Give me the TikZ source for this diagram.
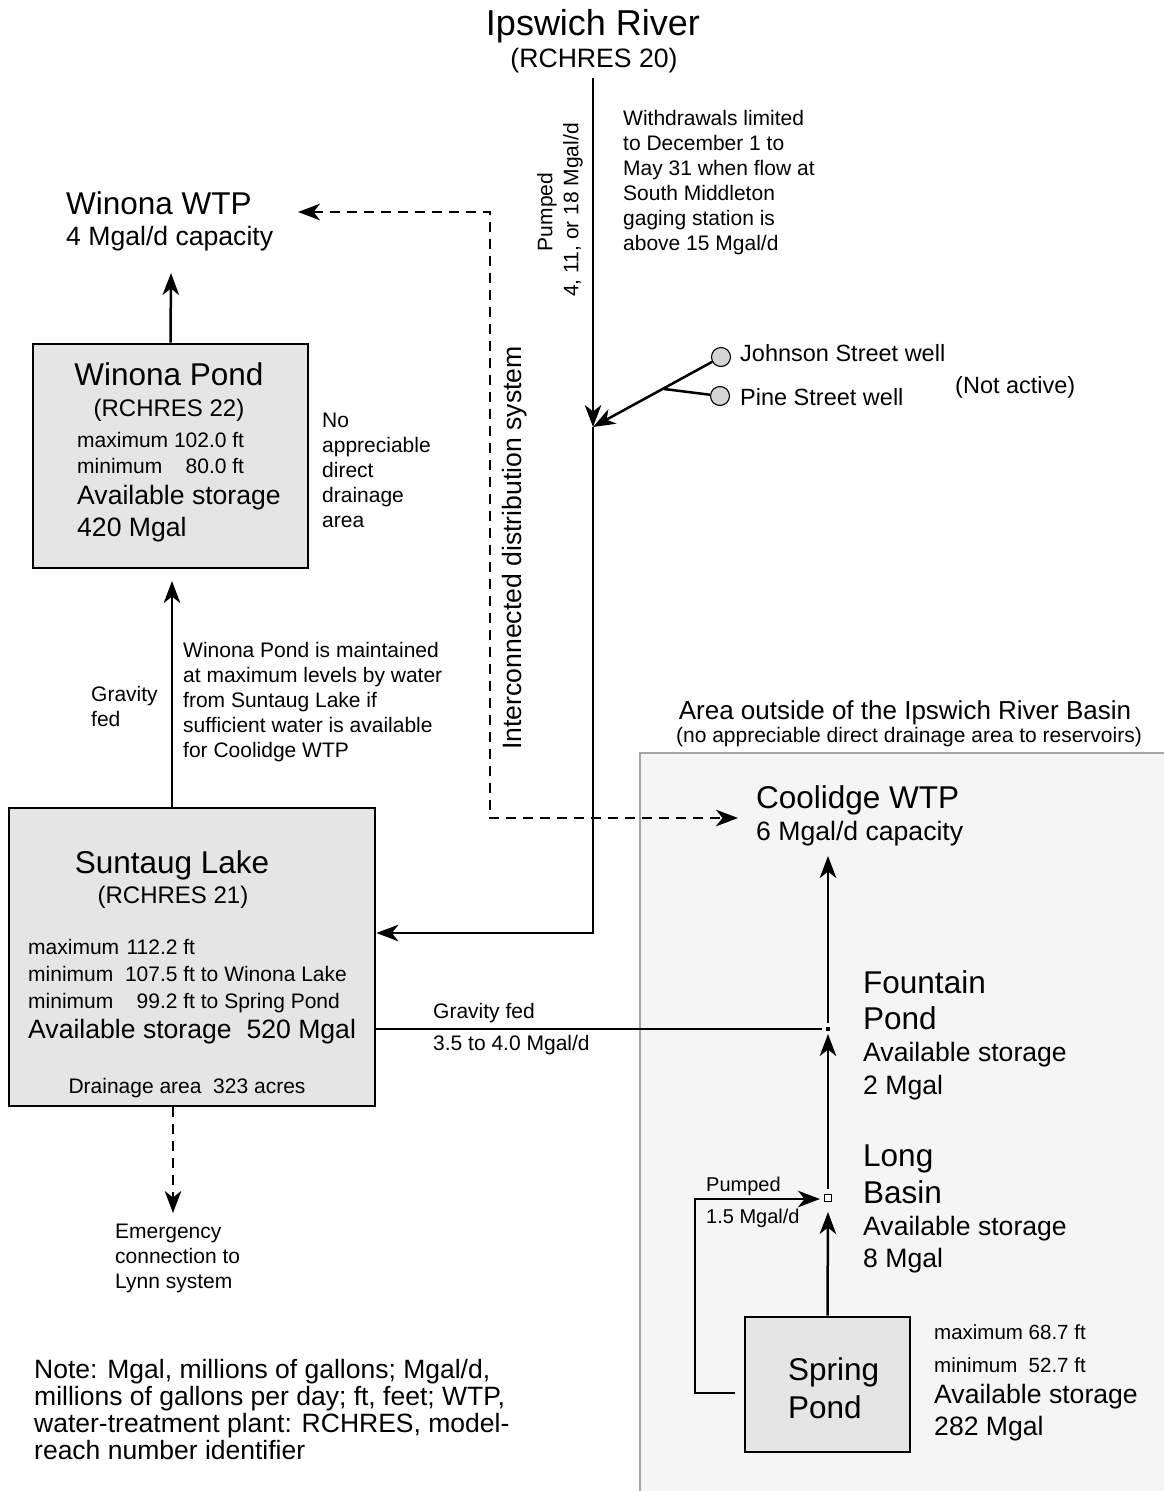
\documentclass[tikz,border=0pt]{standalone}
\usepackage{fontspec}
\setmainfont{Liberation Sans}
\usetikzlibrary{arrows.meta}

% type sizes (1pt = 1 unit of the drawing grid)
\newcommand\fsTitle{\fontsize{36}{42}\selectfont}
\newcommand\fsBig{\fontsize{31.5}{37}\selectfont}
\newcommand\fsMed{\fontsize{26.6}{32}\selectfont}
\newcommand\fsId{\fontsize{24}{28}\selectfont}
\newcommand\fsSmall{\fontsize{21}{25}\selectfont}
\newcommand\fsWell{\fontsize{23.5}{28}\selectfont}

% a left-aligned block whose baseline is that of its first line
\newcommand\linesof[1]{\begin{tabular}[t]{@{}l@{}}#1\end{tabular}}
% level tables: label, right-aligned number, unit
\newcommand\levels[1]{\begin{tabular}[t]{@{}l@{\ }r@{\ }l@{}}#1\end{tabular}}

\tikzset{
  tipA/.tip={Stealth[length=22pt,width=16.5pt,inset=6.5pt]},
  conn/.style={line width=2.5pt},
  flow/.style={conn,-tipA},
  dflow/.style={line width=2.2pt,dash pattern=on 10pt off 7pt},
  pond/.style={draw,line width=2.8pt,fill=black!10,inner sep=0pt},
  txt/.style={inner sep=0pt,anchor=base west},
  ctxt/.style={inner sep=0pt,anchor=base},
  well/.style={circle,draw,line width=1.1pt,fill=black!17,minimum size=19pt,inner sep=0pt},
}

\begin{document}
\begin{tikzpicture}[x=1pt,y=-1pt]
\useasboundingbox (0,0) rectangle (1164,1491);
\fill[white] (0,0) rectangle (1164,1491);

% area outside of the basin
\fill[black!4] (640,753) rectangle (1190,1510);
\draw[black!35,line width=1.3pt] (640,1510) -- (640,753) -- (1190,753);

% ---------- source and plants ----------
\node[ctxt,font=\fsTitle] (ipswich) at (593,35) {Ipswich River};
\node[ctxt,font=\fsMed] (ipswichid) at (594,67) {(RCHRES 20)};

\node[txt,font=\fsSmall] (withdraw) at (623,125)
  {\linesof{Withdrawals limited\\to December 1 to\\May 31 when flow at\\South Middleton\\gaging station is\\above 15 Mgal/d}};

\node[rotate=90,inner sep=0pt,font=\fsSmall] (pumpedA) at (547,212) {Pumped};
\node[rotate=90,inner sep=0pt,font=\fsSmall] (pumpedB) at (573,210) {4, 11, or 18 Mgal/d};

\node[txt,font=\fsBig] (winwtp) at (66,214) {Winona WTP};
\node[txt,font=\fsMed] (winwtpcap) at (66,245) {4 Mgal/d capacity};

\node[rotate=90,inner sep=0pt,font=\fsMed] (interconn) at (515,548) {Interconnected distribution system};

% ---------- wells ----------
\node[well] (johnson) at (721,357) {};
\node[well] (pine) at (720,396) {};
\node[txt,font=\fsWell] (johnsonlbl) at (740,361) {Johnson Street well};
\node[txt,font=\fsWell] (pinelbl) at (740,405) {Pine Street well};
\node[txt,font=\fsWell] (inactive) at (955,393) {(Not active)};

% ---------- Winona Pond ----------
\node[pond,minimum width=275pt,minimum height=224pt] (winpond) at (170.5,456) {};
\node[ctxt,font=\fsBig] (winpondname) at (169,385) {Winona Pond};
\node[ctxt,font=\fsId] (winpondid) at (169,416) {(RCHRES 22)};
\node[txt,font=\fontsize{21}{26}\selectfont] (winpondlev) at (77,447)
  {\levels{maximum & 102.0 & ft\\ minimum & 80.0 & ft}};
\node[txt,font=\fsMed] (winpondstor) at (77,504) {\linesof{Available storage\\420 Mgal}};

\node[txt,font=\fsSmall] (nodrain) at (322,427)
  {\linesof{No\\appreciable\\direct\\drainage\\area}};

\node[txt,font=\fsSmall] (gravA) at (91,701) {\linesof{Gravity\\fed}};
\node[txt,font=\fontsize{21}{25.2}\selectfont] (maintnote) at (183,657)
  {\linesof{Winona Pond is maintained\\at maximum levels by water\\from Suntaug Lake if\\sufficient water is available\\for Coolidge WTP}};

% ---------- Suntaug Lake ----------
\node[pond,minimum width=366pt,minimum height=298pt] (suntaug) at (192,957) {};
\node[ctxt,font=\fsBig] (suntaugname) at (172,873) {Suntaug Lake};
\node[ctxt,font=\fsId] (suntaugid) at (173,903) {(RCHRES 21)};
\node[txt,font=\fontsize{21}{27}\selectfont] (suntauglev) at (28,954)
  {\levels{maximum & 112.2 & ft\\ minimum & 107.5 & ft to Winona Lake\\ minimum & 99.2 & ft to Spring Pond}};
\node[txt,font=\fsMed] (suntaugstor) at (28,1038) {Available storage~~520 Mgal};
\node[ctxt,font=\fsSmall] (suntaugdrain) at (187,1093) {Drainage area~~323 acres};

\node[txt,font=\fsSmall] (lynn) at (115,1238) {\linesof{Emergency\\connection to\\Lynn system}};

\node[txt,font=\fsSmall] (gravB) at (433,1018) {Gravity fed};
\node[txt,font=\fsSmall] (gravBrate) at (433,1050) {3.5 to 4.0 Mgal/d};

% ---------- outside the basin ----------
\node[ctxt,font=\fontsize{26}{30}\selectfont] (outside) at (905,719) {Area outside of the Ipswich River Basin};
\node[ctxt,font=\fsSmall] (outsidenote) at (909,742) {(no appreciable direct drainage area to reservoirs)};

\node[txt,font=\fsBig] (coolidge) at (756,808) {Coolidge WTP};
\node[txt,font=\fsMed] (coolidgecap) at (756,840) {6 Mgal/d capacity};

\node[txt,font=\fontsize{31.5}{36}\selectfont] (fountain) at (863,993) {\linesof{Fountain\\Pond}};
\node[txt,font=\fontsize{26.6}{33}\selectfont] (fountainstor) at (863,1061) {\linesof{Available storage\\2 Mgal}};

\node[txt,font=\fontsize{31.5}{37.5}\selectfont] (longbasin) at (863,1166) {\linesof{Long\\Basin}};
\node[txt,font=\fsMed] (longstor) at (863,1235) {\linesof{Available storage\\8 Mgal}};

\node[pond,minimum width=165pt,minimum height=135pt] (spring) at (827.5,1384.5) {};
\node[txt,font=\fontsize{31.5}{38}\selectfont] (springname) at (788,1380) {\linesof{Spring\\Pond}};
\node[txt,font=\fontsize{20.5}{33}\selectfont] (springlev) at (934,1339)
  {\levels{maximum & 68.7 & ft\\ minimum & 52.7 & ft}};
\node[txt,font=\fsMed] (springstor) at (934,1403) {\linesof{Available storage\\282 Mgal}};

\node[txt,font=\fontsize{20}{24}\selectfont] (pumpedC) at (706,1191) {Pumped};
\node[txt,font=\fontsize{20}{24}\selectfont] (pumpedCrate) at (706,1223) {1.5 Mgal/d};

\node[txt,font=\fontsize{26.5}{26.7}\selectfont] (note) at (34,1378)
  {\linesof{Note: Mgal, millions of gallons; Mgal/d,\\millions of gallons per day; ft, feet; WTP,\\water-treatment plant: RCHRES, model-\\reach number identifier}};

% ---------- junctions ----------
\node[fill=black,minimum size=4pt,inner sep=0pt] (fountj) at (828,1029) {};
\node[draw,fill=white,line width=1.4pt,minimum size=7pt,inner sep=0pt] (longj) at (828,1198) {};

\coordinate (ipsout) at (593,78);
\coordinate (tap) at (593,427);
\coordinate (tapbend) at (593,933);
\coordinate (pinejoin) at (664,389);
\coordinate (winwtpin) at (171,273);
\coordinate (winin) at (172,581);
\coordinate (dashW) at (298,212);
\coordinate (dashNW) at (490,212);
\coordinate (dashSW) at (490,818);
\coordinate (dashE) at (738,818);
\coordinate (lynnin) at (173,1213);
\coordinate (gravend) at (822,1029);
\coordinate (coolin) at (828,856);
\coordinate (fountabove) at (828,1023);
\coordinate (fountbelow) at (828,1034);
\coordinate (longabove) at (828,1189);
\coordinate (longbelow) at (828,1212);
\coordinate (pumpstart) at (735,1393);
\coordinate (pumpSW) at (695,1393);
\coordinate (pumpNW) at (695,1199);
\coordinate (longin) at (820,1199);

% ---------- connectors ----------
\draw[flow] (ipsout) -- (tap);
\draw[flow] (tap) -- (tapbend) -- (suntaug.east |- tapbend);
\draw[flow] (johnson) -- (tap);
\draw[conn] (pine) -- (pinejoin);

\draw[flow] (winpond.north) -- (winwtpin);
\draw[flow] (suntaug.north -| winin) -- (winin);

\draw[dflow,tipA-tipA] (dashW) -- (dashNW) -- (dashSW) -- (dashE);
\draw[dflow,-tipA] (suntaug.south -| lynnin) -- (lynnin);

\draw[conn] (suntaug.east |- fountj) -- (gravend);
\draw[flow] (fountabove) -- (coolin);
\draw[flow] (longabove) -- (fountbelow);
\draw[flow] (spring.north) -- (longbelow);
\draw[flow] (pumpstart) -- (pumpSW) -- (pumpNW) -- (longin);
\end{tikzpicture}
\end{document}
